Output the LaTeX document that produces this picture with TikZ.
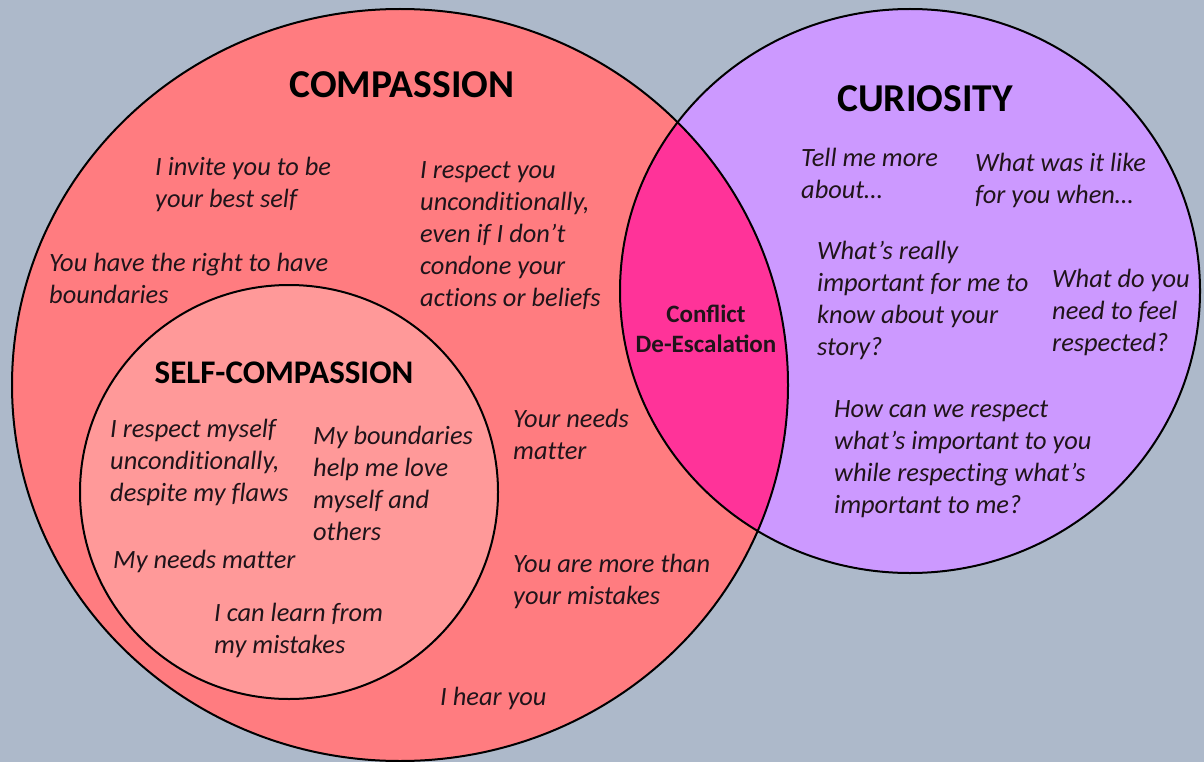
\documentclass[tikz,border=0pt]{standalone}
\usepackage{fontspec}
\newfontfamily\calfont{Carlito}
\newfontfamily\bodyfont[Ligatures=NoCommon]{Carlito}
\definecolor{bgc}{HTML}{ADB9CA}
\definecolor{redc}{HTML}{FF7C80}
\definecolor{innerc}{HTML}{FF9999}
\definecolor{purc}{HTML}{CC99FF}
\definecolor{lensc}{HTML}{FF3399}
\definecolor{txtc}{RGB}{32,20,26}
\tikzset{
  body/.style={font=\bodyfont\itshape\fontsize{26.4}{32}\selectfont, text=txtc, align=left, inner sep=0pt, anchor=north west, yshift=22.4pt},
  bigtitle/.style={font=\calfont\bfseries\fontsize{39.5}{44}\selectfont, text=black, inner sep=0pt, anchor=base},
  midtitle/.style={font=\calfont\bfseries\fontsize{33}{38}\selectfont, text=black, inner sep=0pt, anchor=base},
  lenstext/.style={font=\calfont\bfseries\fontsize{25}{30}\selectfont, text=txtc, align=center, inner sep=0pt, anchor=north, yshift=21pt},
  outline/.style={draw=black, line width=2pt}
}
\begin{document}
\begin{tikzpicture}[x=1pt,y=-1pt]
\useasboundingbox (0,0) rectangle (1204,762);
\fill[bgc] (0,0) rectangle (1204,762);
% circles
\fill[purc] (910,291) ellipse [x radius=290, y radius=282];
\fill[redc] (400,385) ellipse [x radius=388, y radius=376];
\begin{scope}
  \clip (910,291) ellipse [x radius=290, y radius=282];
  \fill[lensc] (400,385) ellipse [x radius=388, y radius=376];
\end{scope}
\draw[outline] (910,291) ellipse [x radius=290, y radius=282];
\draw[outline] (400,385) ellipse [x radius=388, y radius=376];
\filldraw[fill=innerc, outline] (289,492) ellipse [x radius=209, y radius=207];
% titles
\node[bigtitle] (tcomp) at (402,98) {COMPASSION};
\node[bigtitle] (tcur) at (925,112) {CURIOSITY};
\node[midtitle] (tself) at (284,383) {SELF-COMPASSION};
\node[lenstext] (tlens) at (706,322) {\strut Conflict\\De-Escalation};
% compassion
\node[body] (c1) at (155,175) {\strut I invite you to be\\your best self};
\node[body] (c2) at (420,178) {\strut I respect you\\unconditionally,\\even if I don’t\\condone your\\actions or beliefs};
\node[body] (c3) at (49,271) {\strut You have the right to have\\boundaries};
\node[body] (c4) at (513,427) {\strut Your needs\\matter};
\node[body] (c5) at (513,572) {\strut You are more than\\your mistakes};
\node[body] (c6) at (440,705) {\strut I hear you};
% self-compassion
\node[body] (s1) at (110,437) {\strut I respect myself\\unconditionally,\\despite my flaws};
\node[body] (s2) at (313,444) {\strut My boundaries\\help me love\\myself and\\others};
\node[body] (s3) at (113,568) {\strut My needs matter};
\node[body] (s4) at (214,621) {\strut I can learn from\\my mistakes};
% curiosity
\node[body] (q1) at (801,166) {\strut Tell me more\\about…};
\node[body] (q2) at (975,171) {\strut What was it like\\for you when…};
\node[body] (q3) at (817,259) {\strut What’s really\\important for me to\\know about your\\story?};
\node[body] (q4) at (1052,287) {\strut What do you\\need to feel\\respected?};
\node[body] (q5) at (834,417) {\strut How can we respect\\what’s important to you\\while respecting what’s\\important to me?};
\end{tikzpicture}
\end{document}
